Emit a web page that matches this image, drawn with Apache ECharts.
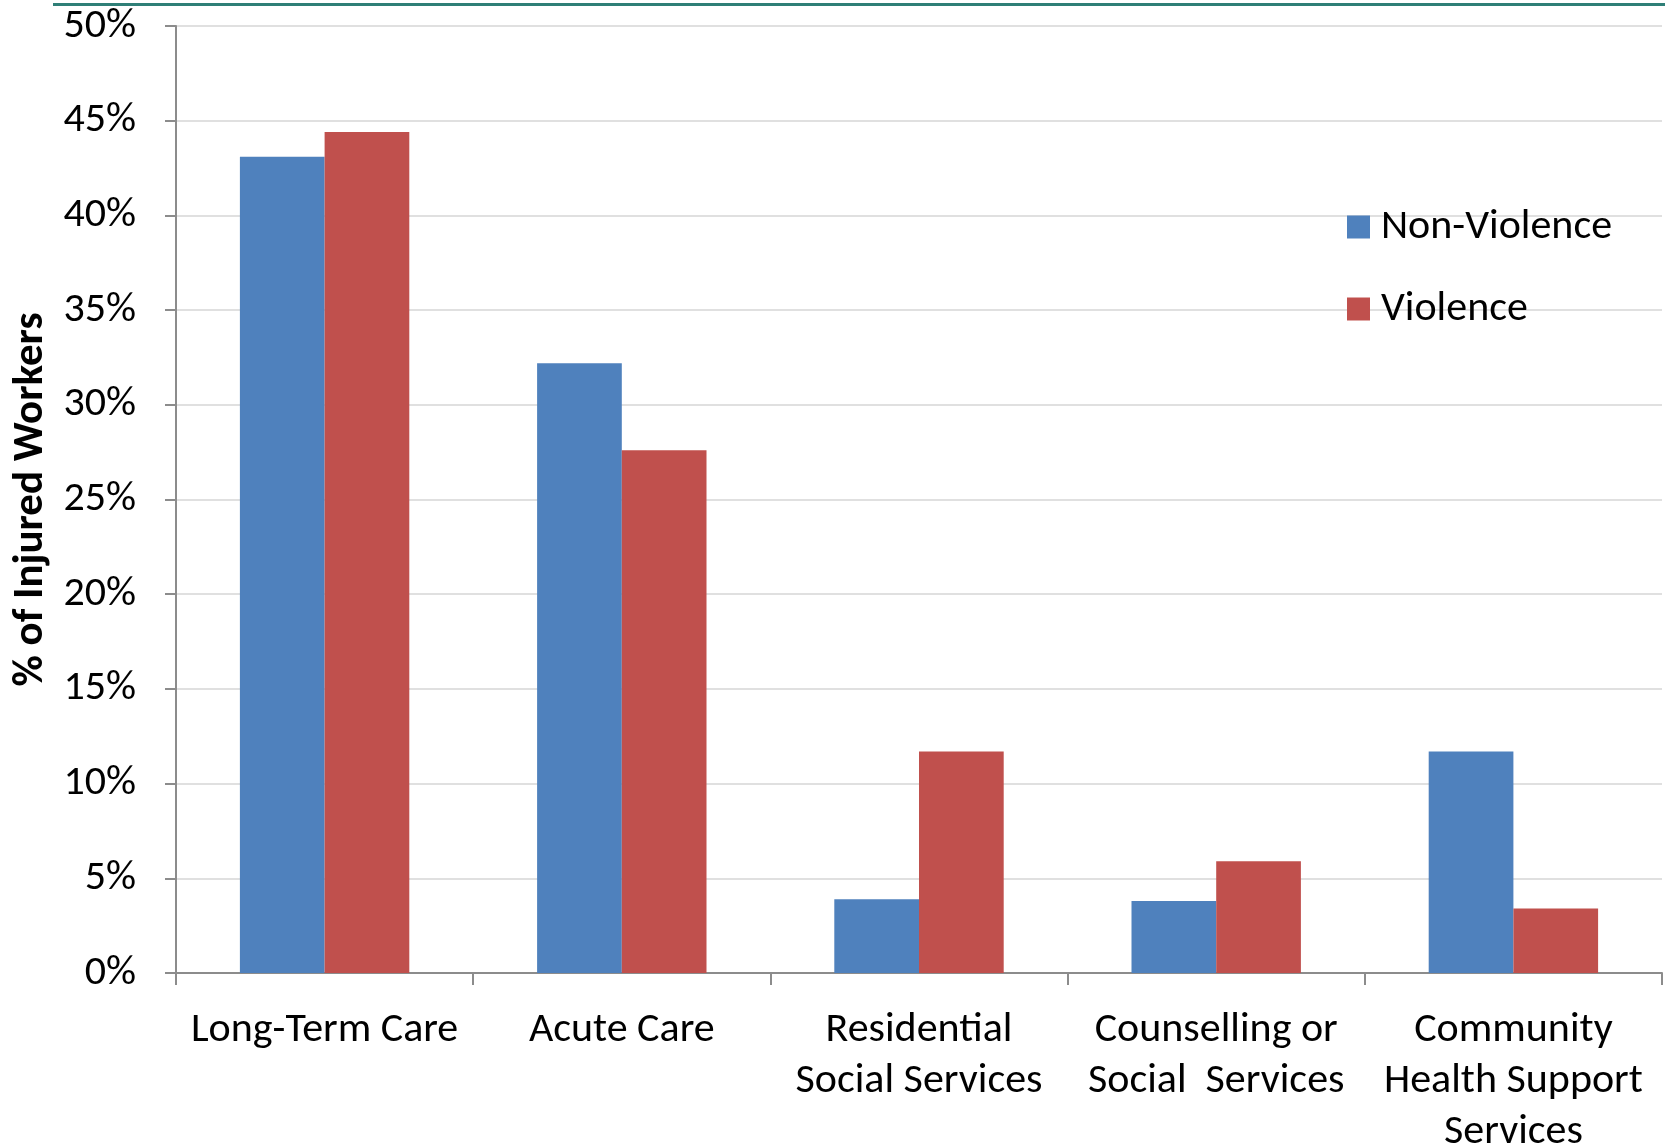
<!DOCTYPE html>
<html>
<head>
<meta charset="utf-8">
<script src="https://cdn.jsdelivr.net/npm/echarts@6/dist/echarts.min.js"></script>
<style>
  html, body { margin: 0; padding: 0; background: #fff; }
  #chart { width: 1665px; height: 1148px; }
</style>
</head>
<body>
<div id="chart"></div>
<script>
const categories = [
  'Long-Term Care',
  'Acute Care',
  'Residential\nSocial Services',
  'Counselling or\nSocial  Services',
  'Community\nHealth Support\nServices'
];
const nonViolence = [43.1, 32.2, 3.9, 3.8, 11.7];
const violence = [44.4, 27.6, 11.7, 5.9, 3.4];
const yTicks = { min: 0, max: 50, interval: 5 };

const FONT = 'Carlito, Lato, sans-serif';

const chart = echarts.init(document.getElementById('chart'), null, { renderer: 'canvas' });
chart.setOption({
  animation: false,
  textStyle: { fontFamily: FONT },
  graphic: [
    { type: 'rect', shape: { x: 53, y: 3, width: 1612, height: 3 }, style: { fill: '#2f7f77' } }
  ],
  legend: {
    orient: 'vertical',
    left: 1342,
    top: 201,
    itemWidth: 23,
    itemHeight: 23,
    itemGap: 40,
    icon: 'rect',
    textStyle: { fontFamily: FONT, fontSize: 42, color: '#000', padding: [0, 0, 0, 6] },
    data: ['Non-Violence', 'Violence']
  },
  grid: { left: 176, right: 3, top: 26, bottom: 175, containLabel: false, outerBoundsMode: 'none' },
  xAxis: {
    type: 'category',
    data: categories,
    axisLine: { lineStyle: { color: '#8c8c8c', width: 2 } },
    axisTick: { show: true, length: 12, lineStyle: { color: '#8c8c8c', width: 2 } },
    axisLabel: {
      color: '#000', fontSize: 42, fontFamily: FONT, margin: 32,
      lineHeight: 51, interval: 0
    }
  },
  yAxis: {
    type: 'value',
    min: yTicks.min, max: yTicks.max, interval: yTicks.interval,
    name: '% of Injured Workers',
    nameLocation: 'middle',
    nameGap: 115,
    nameTextStyle: { fontSize: 43, fontWeight: 'bold', color: '#000', fontFamily: FONT },
    axisLine: { show: true, lineStyle: { color: '#8c8c8c', width: 2 } },
    axisTick: { show: true, length: 11, lineStyle: { color: '#8c8c8c', width: 2 } },
    axisLabel: { formatter: '{value}%', color: '#000', fontSize: 42, fontFamily: FONT, margin: 40 },
    splitLine: { lineStyle: { color: '#e0e0e0', width: 2 } }
  },
  series: [
    {
      name: 'Non-Violence', type: 'bar', data: nonViolence,
      itemStyle: { color: '#4f81bd' },
      barGap: '0%', barCategoryGap: '43%'
    },
    {
      name: 'Violence', type: 'bar', data: violence,
      itemStyle: { color: '#c0504d' },
      barGap: '0%', barCategoryGap: '43%'
    }
  ]
});
</script>
</body>
</html>
